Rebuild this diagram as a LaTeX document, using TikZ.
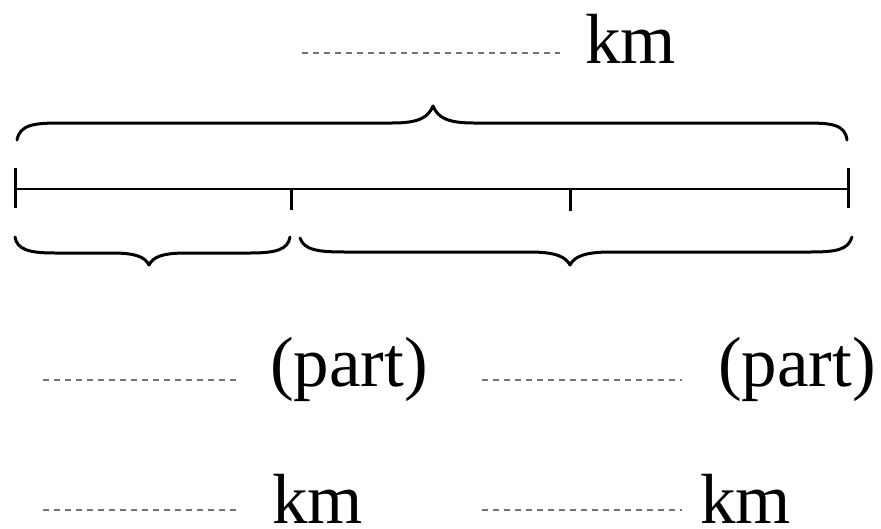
\documentclass[tikz,border=0pt]{standalone}
\usepackage{fontspec}
\setmainfont{Liberation Serif}
\begin{document}
\begin{tikzpicture}[x=1pt,y=-1pt,
  brace/.style={line width=3pt,line cap=round,line join=round},
  blank/.style={draw=black!55,line width=1.2pt,dash pattern=on 6pt off 5pt},
  lbl/.style={anchor=base west,inner sep=0pt,font=\fontsize{71}{80}\selectfont},
  axis/.style={line width=2.2pt},
  tick/.style={line width=3pt}]
\useasboundingbox (0,0) rectangle (881,528);
% top label
\coordinate (t1) at (302,53); \coordinate (t2) at (560,53);
\draw[blank] (t1) -- (t2);
\node[lbl] (kmtop) at (585,63) {km};
% top brace
\draw[brace] (17,140) .. controls (20,124) and (35,123) .. (62,123) -- (392,123)
  .. controls (418,123) and (428,118) .. (433,106)
  .. controls (438,118) and (448,123) .. (474,123) -- (804,123)
  .. controls (831,123) and (845,124) .. (847,140);
% number line
\coordinate (a) at (15,189); \coordinate (b) at (848,189);
\coordinate (m1) at (291,189); \coordinate (m2) at (570,189);
\draw[axis] (a) -- (b);
\draw[tick] (15,168) -- (15,208);
\draw[tick] (848,168) -- (848,208);
\draw[tick] (m1) -- (291,210);
\draw[tick] (m2) -- (570,211);
% bottom left brace
\draw[brace] (15,237) .. controls (17,250) and (30,253) .. (55,253) -- (112,253)
  .. controls (136,253) and (145,257) .. (149,265)
  .. controls (153,257) and (162,253) .. (186,253) -- (250,253)
  .. controls (275,253) and (288,250) .. (290,237);
% bottom right brace
\draw[brace] (300,238) .. controls (304,250) and (318,252) .. (345,252) -- (530,252)
  .. controls (556,252) and (566,257) .. (570,265)
  .. controls (574,257) and (584,252) .. (610,252) -- (810,252)
  .. controls (836,252) and (848,250) .. (852,237);
% part labels
\coordinate (p1a) at (43,380); \coordinate (p1b) at (238,380);
\coordinate (p2a) at (482,380); \coordinate (p2b) at (682,380);
\draw[blank] (p1a) -- (p1b);
\draw[blank] (p2a) -- (p2b);
\node[lbl] (partL) at (270,386) {(part)};
\node[lbl] (partR) at (718,386) {(part)};
% km labels
\coordinate (k1a) at (43,510); \coordinate (k1b) at (238,510);
\coordinate (k2a) at (482,510); \coordinate (k2b) at (682,510);
\draw[blank] (k1a) -- (k1b);
\draw[blank] (k2a) -- (k2b);
\node[lbl] (kmL) at (272,523) {km};
\node[lbl] (kmR) at (700,523) {km};
\end{tikzpicture}
\end{document}
